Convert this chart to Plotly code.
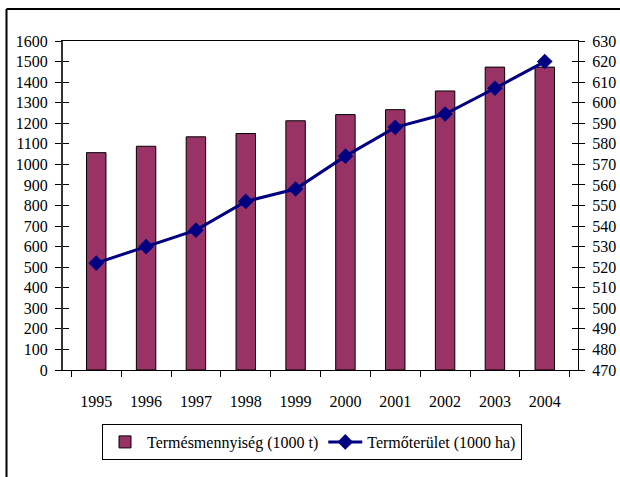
import plotly.graph_objects as go

years = ["1995", "1996", "1997", "1998", "1999", "2000", "2001", "2002", "2003", "2004"]
yield_kt = [1057, 1088, 1134, 1150, 1212, 1242, 1266, 1357, 1473, 1473]
area_kha = [522, 530, 538, 552, 558, 574, 588, 594.5, 607, 620]
bar_name = "Termésmennyiség (1000 t)"
line_name = "Termőterület (1000 ha)"

W, H = 620, 477
L, R, T, B = 63, 578, 41, 370
FONT = dict(family="Liberation Serif", size=16, color="black")

def px(x):
    return (x - L) / (R - L)

def py(y):
    return (B - y) / (B - T)

fig = go.Figure()
fig.add_trace(go.Bar(
    x=years, y=yield_kt, name=bar_name,
    marker=dict(color="#993366", line=dict(color="black", width=1)),
    yaxis="y",
))
fig.add_trace(go.Scatter(
    x=years, y=area_kha, name=line_name, mode="lines+markers",
    line=dict(color="#000080", width=3),
    marker=dict(symbol="diamond", size=12, color="#000080"),
    yaxis="y2",
))

fig.update_layout(
    width=W, height=H,
    margin=dict(l=L, r=W - R, t=T, b=H - B, pad=0, autoexpand=False),
    paper_bgcolor="white", plot_bgcolor="white",
    font=FONT,
    bargap=0.61,
    showlegend=True,
    legend=dict(
        orientation="h", x=px(312), xanchor="center", y=py(424), yanchor="top",
        bordercolor="black", borderwidth=1, font=FONT, traceorder="normal",
        itemwidth=34,
    ),
    xaxis=dict(
        type="category", tickson="boundaries", ticks="outside", ticklen=6,
        tickcolor="black", showline=True, linecolor="black", linewidth=1,
        mirror=True, showgrid=False, ticklabelstandoff=17, tickfont=FONT,
    ),
    yaxis=dict(
        range=[0, 1600], dtick=100, ticks="outside", ticklen=6,
        tickcolor="black", showline=True, linecolor="#333333", linewidth=2,
        showgrid=False, zeroline=False, tickfont=FONT, ticklabelstandoff=4,
    ),
    yaxis2=dict(
        range=[470, 630], dtick=10, overlaying="y", side="right",
        ticks="outside", ticklen=6, tickcolor="black", showline=True,
        linecolor="black", linewidth=1, showgrid=False, zeroline=False,
        tickfont=FONT, ticklabelstandoff=4,
    ),
    yaxis3=dict(
        range=[0, 1600], dtick=100, overlaying="y", side="left",
        ticks="inside", ticklen=6, tickcolor="black", showticklabels=False,
        showline=False, showgrid=False, zeroline=False,
    ),
    yaxis4=dict(
        range=[470, 630], dtick=10, overlaying="y", side="right",
        ticks="inside", ticklen=6, tickcolor="black", showticklabels=False,
        showline=False, showgrid=False, zeroline=False,
    ),
    shapes=[
        dict(type="line", xref="paper", yref="paper",
             x0=px(6.5), x1=px(620), y0=py(9), y1=py(9),
             line=dict(color="black", width=2)),
        dict(type="line", xref="paper", yref="paper",
             x0=px(6.5), x1=px(6.5), y0=py(9), y1=py(477),
             line=dict(color="black", width=2)),
    ],
)
# invisible helper traces so the inside-tick overlay axes are drawn
fig.add_trace(go.Scatter(x=[years[0]], y=[0], yaxis="y3", showlegend=False,
                         mode="markers", marker=dict(opacity=0), hoverinfo="skip"))
fig.add_trace(go.Scatter(x=[years[0]], y=[470], yaxis="y4", showlegend=False,
                         mode="markers", marker=dict(opacity=0), hoverinfo="skip"))

fig.write_html("out.html", config={"displayModeBar": False},
               post_script="document.body.style.margin='0';")
